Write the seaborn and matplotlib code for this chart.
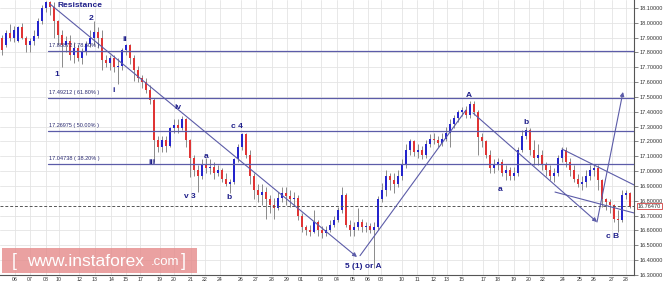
import numpy as np
import pandas as pd
import seaborn as sns
import matplotlib
matplotlib.use("Agg")
import matplotlib.pyplot as plt
from matplotlib.patches import Rectangle

opens = [17.90,17.85,17.93,17.90,17.88,17.97,17.90,17.85,17.88,17.91,
18.01,18.10,18.14,18.11,18.01,17.92,17.85,17.88,17.78,17.83,
17.76,17.80,17.86,17.90,17.94,17.90,17.75,17.73,17.76,17.70,
17.71,17.82,17.85,17.76,17.68,17.63,17.60,17.55,17.48,17.21,
17.16,17.21,17.17,17.29,17.31,17.29,17.35,17.21,17.09,17.01,
16.97,17.04,17.02,17.03,16.99,17.01,16.95,16.91,16.93,17.08,
17.16,17.25,17.11,16.97,16.87,16.84,16.86,16.81,16.77,16.75,
16.82,16.85,16.83,16.81,16.82,16.70,16.62,16.60,16.59,16.66,
16.60,16.58,16.60,16.64,16.67,16.74,16.84,16.64,16.60,16.62,
16.66,16.62,16.63,16.60,16.62,16.81,16.87,16.97,16.94,16.91,
16.97,17.04,17.14,17.20,17.13,17.14,17.11,17.18,17.22,17.21,
17.19,17.22,17.26,17.32,17.36,17.40,17.41,17.38,17.45,17.40,
17.23,17.20,17.11,17.02,17.04,17.06,16.99,17.01,16.97,16.99,
17.14,17.24,17.28,17.14,17.09,17.11,17.04,17.01,16.97,16.99,
17.09,17.14,17.06,17.01,16.95,16.91,16.93,16.97,17.01,17.02,
16.94,16.81,16.79,16.77,16.68,16.67,16.84,16.85]

closes = [17.82,17.93,17.90,17.95,17.97,17.90,17.85,17.88,17.91,18.01,
18.10,18.14,18.11,18.01,17.92,17.85,17.88,17.78,17.83,17.76,
17.80,17.86,17.90,17.94,17.90,17.75,17.73,17.76,17.70,17.71,
17.82,17.85,17.76,17.68,17.63,17.60,17.55,17.48,17.21,17.16,
17.21,17.17,17.29,17.31,17.29,17.35,17.21,17.09,17.01,16.97,
17.04,17.02,17.03,16.99,17.01,16.95,16.91,16.93,17.08,17.16,
17.25,17.11,16.97,16.87,16.84,16.86,16.81,16.77,16.75,16.82,
16.85,16.83,16.81,16.82,16.70,16.62,16.60,16.59,16.66,16.60,
16.58,16.60,16.64,16.67,16.74,16.84,16.64,16.60,16.62,16.66,
16.62,16.63,16.60,16.62,16.81,16.87,16.97,16.94,16.91,16.97,
17.04,17.14,17.20,17.13,17.14,17.11,17.18,17.22,17.21,17.19,
17.22,17.26,17.32,17.36,17.40,17.41,17.38,17.45,17.40,17.23,
17.20,17.11,17.02,17.04,17.06,16.99,17.01,16.97,16.99,17.14,
17.24,17.28,17.14,17.09,17.11,17.04,17.01,16.97,16.99,17.09,
17.14,17.06,17.01,16.95,16.91,16.93,16.97,17.01,17.02,16.94,
16.81,16.79,16.77,16.68,16.67,16.84,16.85,16.76]

highs = [17.92,17.95,17.99,17.98,17.98,18.00,17.91,17.90,17.95,18.03,
18.12,18.15,18.15,18.14,18.02,17.95,17.91,17.92,17.87,17.85,
17.83,17.88,17.95,18.01,17.97,17.95,17.78,17.78,17.78,17.76,
17.83,17.86,17.86,17.78,17.71,17.65,17.63,17.58,17.49,17.24,
17.24,17.24,17.30,17.35,17.35,17.37,17.36,17.22,17.11,17.04,
17.08,17.09,17.08,17.06,17.04,17.02,16.99,16.95,17.09,17.18,
17.26,17.26,17.14,16.99,16.91,16.91,16.89,16.84,16.82,16.86,
16.89,16.89,16.87,16.86,16.84,16.72,16.64,16.64,16.74,16.67,
16.63,16.63,16.67,16.70,16.76,16.89,16.85,16.67,16.66,16.75,
16.68,16.66,16.65,16.66,16.83,16.92,17.01,16.99,16.99,17.01,
17.08,17.18,17.22,17.21,17.18,17.17,17.21,17.25,17.26,17.24,
17.26,17.30,17.35,17.38,17.41,17.43,17.44,17.47,17.47,17.41,
17.26,17.21,17.14,17.08,17.09,17.08,17.04,17.03,17.03,17.16,
17.28,17.30,17.29,17.21,17.18,17.14,17.06,17.04,17.02,17.11,
17.16,17.16,17.09,17.04,16.98,16.97,17.01,17.04,17.05,17.04,
16.95,16.82,16.81,16.78,16.74,16.87,16.87,16.86]

lows = [17.78,17.84,17.88,17.87,17.87,17.89,17.80,17.80,17.85,17.90,
17.99,18.07,18.05,17.90,17.85,17.70,17.80,17.75,17.73,17.74,
17.72,17.78,17.84,17.85,17.83,17.68,17.70,17.68,17.67,17.59,
17.68,17.78,17.72,17.61,17.60,17.56,17.53,17.45,17.06,17.13,
17.13,17.13,17.16,17.26,17.26,17.28,17.16,16.96,16.97,16.86,
16.95,16.99,16.98,16.95,16.97,16.93,16.90,16.85,16.91,17.06,
17.14,17.09,16.91,16.81,16.79,16.77,16.68,16.72,16.68,16.74,
16.79,16.77,16.76,16.77,16.67,16.59,16.57,16.56,16.58,16.56,
16.55,16.56,16.59,16.62,16.66,16.72,16.62,16.56,16.56,16.60,
16.59,16.59,16.58,16.35,16.60,16.79,16.83,16.87,16.85,16.89,
16.94,17.02,17.11,17.10,17.09,17.08,17.09,17.16,17.18,17.16,
17.17,17.20,17.16,17.29,17.33,17.37,17.36,17.36,17.38,17.11,
17.16,17.09,16.99,16.99,17.01,16.97,16.94,16.94,16.94,16.97,
17.13,17.22,17.11,17.04,17.04,17.01,16.97,16.94,16.93,16.97,
17.06,17.03,16.97,16.93,16.89,16.87,16.89,16.94,16.97,16.87,
16.76,16.74,16.72,16.66,16.59,16.66,16.81,16.75]

day_labels = ["06","07","08","10","12","13","14","15","17","19","20","21","22","24",
              "26","27","28","29","01","03","04","05","06","08","10","11","12","13",
              "15","17","18","19","20","22","24","25","26","27","28"]
day_pos = [3.25,7,11,14.25,19.25,23.25,27.25,31,34.5,39.5,43,47.25,50.75,54.5,
           59.75,63.5,67.5,71.25,74.75,79.75,83.75,87.75,91.5,94.75,100,103.75,107.75,111.25,
           115,120.25,124,128,131.75,135.25,140.25,144.5,148,152.5,156]

fib_levels = [17.80872, 17.49212, 17.26975, 17.04738]
fib_pcts = ["78.60%", "61.80%", "50.00%", "38.20%"]
last_price = 16.76470

wave_text = ["Resistance","1","2","i","ii","iii","iv","v 3","a","b","c 4",
             "5 (1) or A","A","a","b","c B"]
wave_x = [19.5,13.75,22.25,28,30.75,37.5,44,47,51,56.75,58.75,90.25,116.75,124.5,131,152.75]
wave_y = [18.12,17.655,18.03,17.547,17.89,17.06,17.43,16.826,17.10,16.82,17.30,
          16.354,17.513,16.873,17.325,16.556]

# annotation lines (candle index, price)
arrow_lines = [((12.0, 18.127), (88.75, 16.421)),
               ((117.75, 17.392), (148.75, 16.657)),
               ((148.75, 16.657), (155.25, 17.534))]
plain_lines = [((89.5, 16.43), (116.0, 17.412)),
               ((140.0, 17.149), (158.0, 16.907)),
               ((138.25, 16.859), (158.0, 16.718))]

sns.set_theme(style="white")
plt.rcParams['font.family'] = ['Liberation Sans', 'DejaVu Sans']

df = pd.DataFrame({"o": opens, "c": closes, "h": highs, "l": lows})
df["i"] = np.arange(len(df))
df["up"] = df["c"] >= df["o"]

fig = plt.figure(figsize=(6.65, 2.82), dpi=100)
ax = fig.add_axes([0.0, 7/282, 634/665, 275/282])

navy = "#1f1f8a"
line_c = "#5c5ca8"

# grid
for p in day_pos:
    ax.axvline(p, color="#e4e4e4", lw=0.6, zorder=0)
for yv in np.arange(16.3, 18.15, 0.1):
    ax.axhline(yv, color="#e4e4e4", lw=0.6, zorder=0)

# wicks
hi = np.maximum(df["h"], np.maximum(df["o"], df["c"]))
lo = np.minimum(df["l"], np.minimum(df["o"], df["c"]))
ax.vlines(df["i"], lo, hi, color="#8a8a8a", lw=0.7, zorder=2)
# bodies
body_lo = np.minimum(df["o"], df["c"])
body_h = np.maximum(np.abs(df["c"] - df["o"]), 0.006)
cols = np.where(df["up"], "#2424cc", "#e03434")
ax.bar(df["i"], body_h, bottom=body_lo, width=0.7, color=cols, linewidth=0, zorder=3)

# fib lines
for lv, pc in zip(fib_levels, fib_pcts):
    ax.plot([11.5, 158], [lv, lv], color=line_c, lw=0.9, zorder=4)
    ax.text(11.8, lv + 0.022, f"{lv:.5f} ( {pc} )", fontsize=4, color="#2a2a70",
            va="bottom", ha="left", zorder=5)

# current price dashed line
ax.axhline(last_price, color="#555555", lw=0.7, ls=(0, (3, 2)), zorder=4)

# wave lines
for (p0, p1) in plain_lines:
    ax.plot([p0[0], p1[0]], [p0[1], p1[1]], color=line_c, lw=0.8, zorder=4)
for (p0, p1) in arrow_lines:
    ax.annotate("", xy=p1, xytext=p0,
                arrowprops=dict(arrowstyle="-|>", color=line_c, lw=0.8,
                                mutation_scale=6, shrinkA=0, shrinkB=0), zorder=4)

# wave labels
for t, x, y in zip(wave_text, wave_x, wave_y):
    ax.text(x, y, t, fontsize=6, fontweight="bold", color=navy, ha="center", va="center", zorder=6)

ax.set_xlim(-0.5, 158)
ax.set_ylim(16.2997, 18.154)
ax.set_xticks(day_pos)
ax.set_xticklabels(day_labels, fontsize=3.8, color="#333333")
ax.set_yticks(np.round(np.arange(16.3, 18.15, 0.1), 2))
ax.set_yticklabels([f"{v:.5f}" for v in np.arange(16.3, 18.15, 0.1)], fontsize=4, color="#333333")
ax.yaxis.tick_right()
ax.tick_params(axis="y", length=3, width=0.5, pad=1, colors="#555555", labelcolor="#333333")
ax.tick_params(axis="x", length=1, width=0.5, pad=0.2, colors="#555555", labelcolor="#333333")
for s in ["left", "top"]:
    ax.spines[s].set_visible(False)
for s in ["right", "bottom"]:
    ax.spines[s].set_color("#555555")
    ax.spines[s].set_linewidth(0.8)

# current price label
ax.text(1.006, last_price, f"{last_price:.5f}", transform=ax.get_yaxis_transform(),
        fontsize=4, color="#333333", va="center", ha="left",
        bbox=dict(boxstyle="square,pad=0.15", fc="white", ec="#d04040", lw=0.6), zorder=7)

# watermark
fig.patches.append(Rectangle((2/665, 9/282), 195/665, 25/282, transform=fig.transFigure,
                             facecolor="#e58a8a", alpha=0.8, edgecolor="none", zorder=10))
fig.text(12/665, 21/282, "[", fontsize=13, color="white", va="center", ha="left", zorder=11)
fig.text(27/665, 21/282, "www.instaforex", fontsize=12.5, color="white", va="center", ha="left", zorder=11)
fig.text(151/665, 20/282, ".com", fontsize=9.5, color="white", va="center", ha="left", zorder=11)
fig.text(181/665, 21/282, "]", fontsize=13, color="white", va="center", ha="left", zorder=11)

fig.savefig("out.png", dpi=100)
